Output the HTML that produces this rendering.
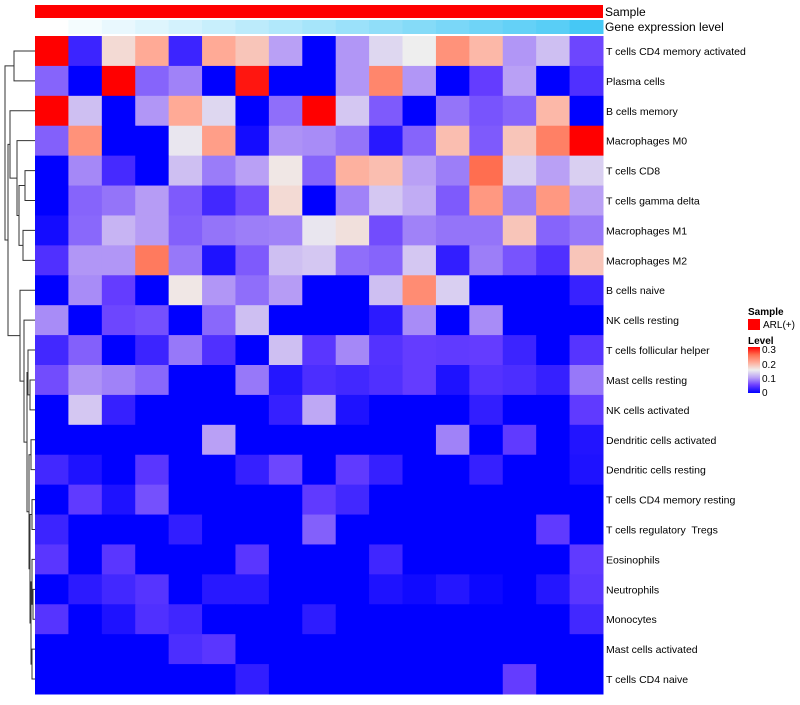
<!DOCTYPE html>
<html><head><meta charset="utf-8"><style>
body{margin:0;background:#fff;font-family:"Liberation Sans",sans-serif}
svg text{font-family:"Liberation Sans",sans-serif}
#labels text{white-space:pre}
</style></head><body>
<svg id="chart" width="800" height="700" xmlns="http://www.w3.org/2000/svg">
<g id="anno"></g>
<g id="cells"></g>
<g id="labels"></g>
<g id="dendro" stroke="#333" stroke-width="1" fill="none"></g>
<text x="605" y="16" font-size="12">Sample</text>
<text x="605" y="31" font-size="12">Gene expression level</text>
<g>
<text x="748" y="315" font-size="10" font-weight="bold">Sample</text>
<rect x="748" y="319" width="12" height="11" fill="#ff0000"></rect>
<text x="763" y="328" font-size="10">ARL(+)</text>
<text x="748" y="344" font-size="10" font-weight="bold">Level</text>
<defs><linearGradient id="lg" x1="0" y1="1" x2="0" y2="0">
<stop offset="0" stop-color="#0000ff"/><stop offset="0.17" stop-color="#6a3cff"/><stop offset="0.33" stop-color="#b9a0f5"/><stop offset="0.5" stop-color="#eeeeee"/><stop offset="0.67" stop-color="#ffaa96"/><stop offset="0.83" stop-color="#ff6e50"/><stop offset="1" stop-color="#ff0000"/></linearGradient></defs>
<rect x="748" y="347" width="12" height="46" fill="url(#lg)"></rect>
<text x="762" y="353" font-size="10">0.3</text>
<text x="762" y="368" font-size="10">0.2</text>
<text x="762" y="382" font-size="10">0.1</text>
<text x="762" y="396" font-size="10">0</text>
</g>
</svg>
<script>
const rowNames=["T cells CD4 memory activated","Plasma cells","B cells memory","Macrophages M0","T cells CD8","T cells gamma delta","Macrophages M1","Macrophages M2","B cells naive","NK cells resting","T cells follicular helper","Mast cells resting","NK cells activated","Dendritic cells activated","Dendritic cells resting","T cells CD4 memory resting","T cells regulatory  Tregs","Eosinophils","Neutrophils","Monocytes","Mast cells activated","T cells CD4 naive"];
const r1=[.3,.03,.165,.2,.03,.2,.18,.1,0,.095,.135,.15,.22,.19,.095,.12,.055];
const r2=[.07,0,.3,.07,.085,0,.29,0,0,.095,.23,.095,0,.05,.1,0,.04];
const r3=[.3,.12,0,.095,.2,.135,0,.075,.3,.125,.065,0,.078,.062,.07,.19,0];
const r4=[.068,.22,0,0,.145,.21,.01,.093,.09,.078,.02,.07,.185,.065,.18,.235,.3];
const r5=[0,.088,.035,0,.12,.082,.1,.155,.07,.195,.185,.1,.083,.25,.13,.1,.13];
const r6=[0,.07,.078,.098,.065,.033,.058,.165,0,.085,.125,.108,.065,.215,.083,.215,.1];
const r7=[.01,.072,.113,.098,.068,.078,.083,.085,.145,.16,.058,.085,.078,.078,.18,.07,.08];
const r8=[.04,.095,.095,.24,.08,.015,.065,.12,.125,.075,.07,.125,.025,.083,.062,.04,.18];
const r9=[0,.09,.05,0,.155,.095,.075,.098,0,0,.12,.225,.13,0,0,0,.028];
const r10=[.09,0,.055,.06,0,.072,.12,0,0,0,.022,.09,0,.09,0,0,0];
const r11=[.033,.068,0,.03,.08,.04,0,.12,.045,.088,.042,.05,.048,.05,.03,0,.043];
const r12=[.058,.093,.085,.072,0,0,.08,.018,.038,.033,.04,.05,.015,.042,.038,.027,.08];
const r13=[0,.125,.027,0,0,0,0,.027,.105,.015,0,0,0,.025,0,0,.048];
const r14=[0,0,0,0,0,.1,0,0,0,0,0,0,.085,0,.048,0,.017];
const r15=[.033,.015,0,.045,0,0,.027,.055,0,.048,.027,0,0,.027,0,0,.015];
const r16=[0,.048,.015,.06,0,0,0,0,.048,.033,0,0,0,0,0,0,0];
const r17=[.03,0,0,0,.025,0,0,0,.068,0,0,0,0,0,0,.048,0];
const r18=[.045,0,.045,0,0,0,.045,0,0,0,.032,0,0,0,0,0,.048];
const r19=[0,.022,.033,.043,0,.02,.02,0,0,0,.015,.008,.018,.006,0,.018,.045];
const r20=[.043,0,.015,.04,.032,0,0,0,.023,0,0,0,0,0,0,0,.033];
const r21=[0,0,0,0,.038,.045,0,0,0,0,0,0,0,0,0,0,0];
const r22=[0,0,0,0,0,0,.025,0,0,0,0,0,0,0,.05,0,0];
const values=[r1,r2,r3,r4,r5,r6,r7,r8,r9,r10,r11,r12,r13,r14,r15,r16,r17,r18,r19,r20,r21,r22];
const geneLevel=[0,.06,.12,.18,.24,.3,.36,.42,.48,.54,.6,.66,.72,.78,.84,.9,1];

const NS="http://www.w3.org/2000/svg";
const X0=35,X1=603,Y0=36,Y1=694;
const nC=17,nR=rowNames.length;
const cw=(X1-X0)/nC,rh=(Y1-Y0)/nR;
function xPos(c){return X0+c*cw;}
function yPos(r){return Y0+r*rh;}
const stops=[[0,[0,0,255]],[.05,[100,60,255]],[.1,[185,160,245]],[.15,[238,238,238]],[.2,[255,170,150]],[.25,[255,110,80]],[.3,[255,0,0]]];
function color(v){v=Math.max(0,Math.min(.3,v));for(let i=1;i<stops.length;i++){if(v<=stops[i][0]){const a=stops[i-1],b=stops[i],t=(v-a[0])/(b[0]-a[0]);return "rgb("+a[1].map((x,k)=>Math.round(x+(b[1][k]-x)*t)).join(",")+")";}}return "rgb(255,0,0)";}
function mk(tag,attrs){const e=document.createElementNS(NS,tag);for(const k in attrs)e.setAttribute(k,attrs[k]);return e;}
const cells=document.getElementById("cells");
values.forEach((row,r)=>row.forEach((v,c)=>{
 const e=mk("rect",{x:xPos(c),y:yPos(r),width:cw+0.5,height:rh+0.5,fill:color(v)});
 
 
 cells.appendChild(e);
}));
const labels=document.getElementById("labels");
rowNames.forEach((n,r)=>{
 const t=mk("text",{x:606,y:yPos(r)+rh/2+4,"font-size":"10.5"});t.textContent=n;
 
 
 labels.appendChild(t);
});
const anno=document.getElementById("anno");
const s=mk("rect",{x:X0,y:5,width:X1-X0,height:13,fill:"#ff0000"});


anno.appendChild(s);
geneLevel.forEach((g,c)=>{
 const col="rgb("+[Math.round(255-185*g),Math.round(255-55*g),Math.round(255-10*g)].join(",")+")";
 const e=mk("rect",{x:xPos(c),y:20,width:cw+0.5,height:14,fill:col});
 
 
 anno.appendChild(e);
});
const dend=document.getElementById("dendro");
function yc(r){return yPos(r)+rh/2;}
function node(n){if(typeof n==="number")return {y:yc(n),x:35};
 const a=node(n[0]),b=node(n[1]),x=n[2];
 const p=mk("path",{d:`M${a.x},${a.y}H${x}V${b.y}H${b.x}`});
 
 
 dend.appendChild(p);
 return {y:(a.y+b.y)/2,x:x};}
function simpleTree(){
 return [[0,1,14],[[2,[3,[[4,5,25],[6,7,23],19],17],10],[8,[9,[[10,[11,12,30],28],[[13,14,31],[[15,16,32],[[17,[18,19,33],32],[20,21,32],31],30],29],27],24],20],8],5];
}
node(simpleTree());
</script>
</body></html>
